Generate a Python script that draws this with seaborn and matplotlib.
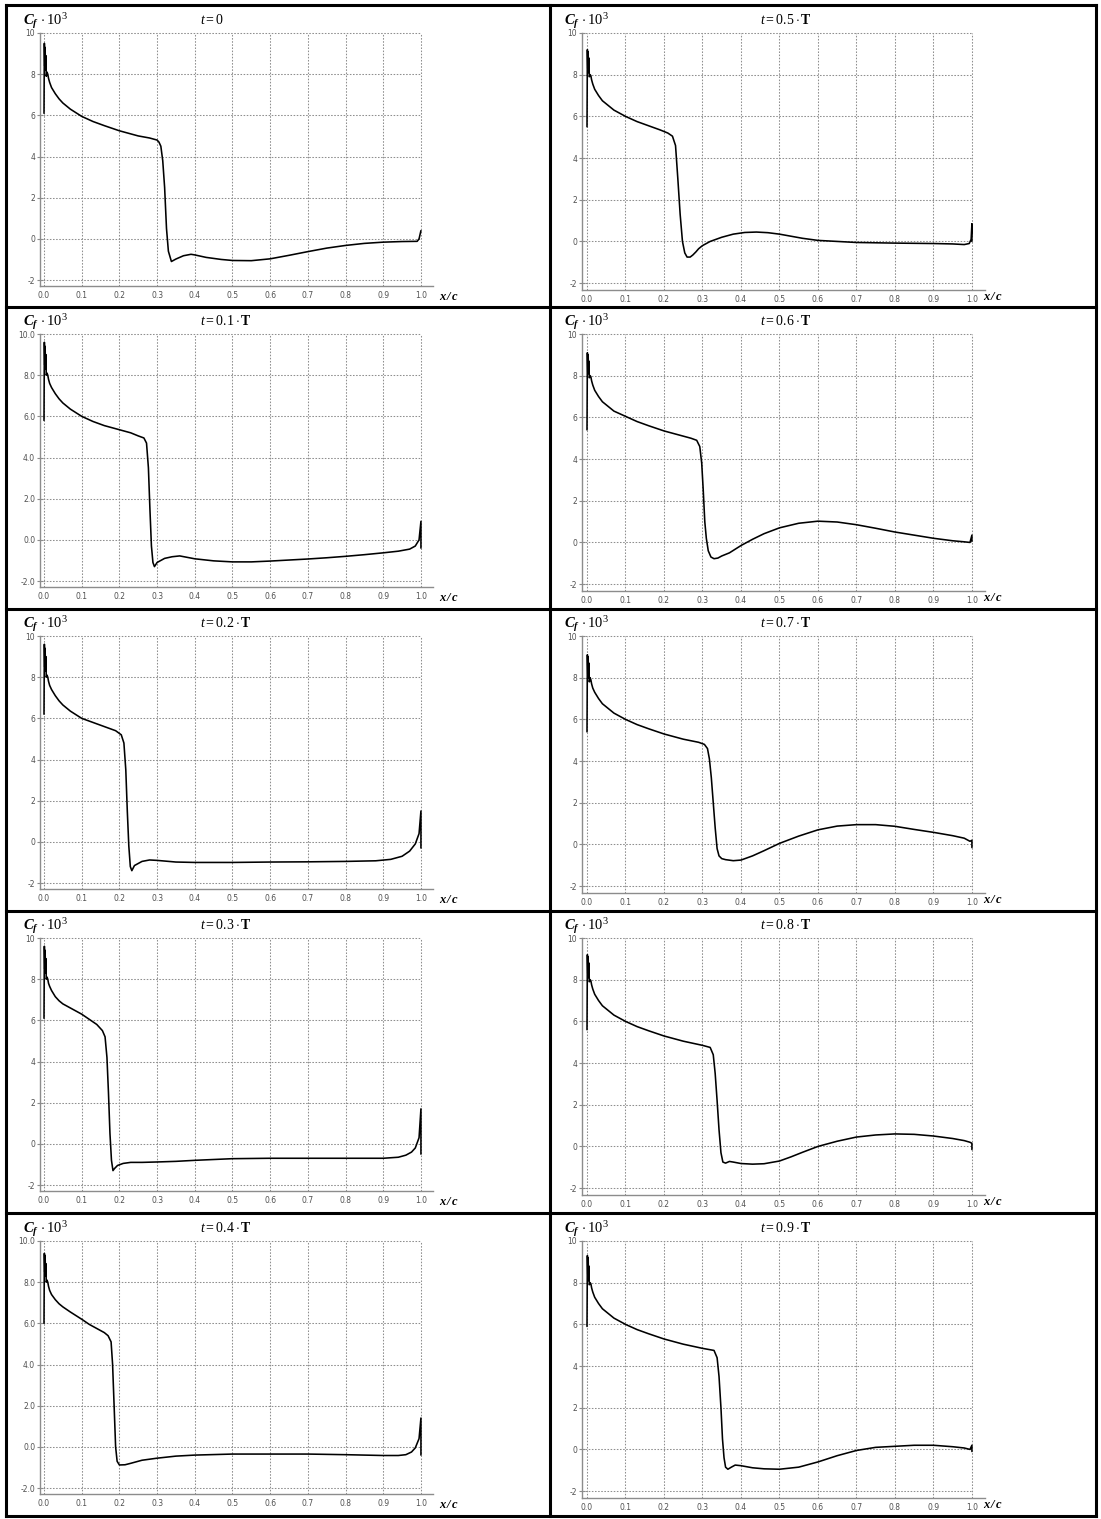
import matplotlib
matplotlib.use("Agg")
import matplotlib.pyplot as plt
import seaborn as sns
import pandas as pd
from matplotlib.lines import Line2D

# ---------------- data ----------------
time_labels = ["0", "0.1", "0.2", "0.3", "0.4", "0.5", "0.6", "0.7", "0.8", "0.9"]
x_ticks = [0.0, 0.1, 0.2, 0.3, 0.4, 0.5, 0.6, 0.7, 0.8, 0.9, 1.0]
x_tick_labels = ["0.0", "0.1", "0.2", "0.3", "0.4", "0.5", "0.6", "0.7", "0.8", "0.9", "1.0"]
y_ticks = [-2, 0, 2, 4, 6, 8, 10]
y_tick_labels_int = ["-2", "0", "2", "4", "6", "8", "10"]
y_tick_labels_dec = ["-2.0", "0.0", "2.0", "4.0", "6.0", "8.0", "10.0"]

x_t00 = [0.0, 0.001, 0.002, 0.003, 0.004, 0.005, 0.006, 0.008, 0.010, 0.012,
         0.015, 0.02, 0.03, 0.04, 0.05, 0.07, 0.10, 0.13, 0.16, 0.20,
         0.25, 0.28, 0.30, 0.305, 0.31, 0.315, 0.32, 0.325, 0.33, 0.338,
         0.35, 0.37, 0.39, 0.40, 0.43, 0.47, 0.50, 0.55, 0.60, 0.65,
         0.70, 0.75, 0.80, 0.85, 0.90, 0.95, 0.99, 0.995, 1.0]
cf_t00 = [6.1, 9.5, 8.4, 9.3, 8.2, 8.9, 7.9, 8.1, 8.0, 7.8,
          7.6, 7.35, 7.05, 6.8, 6.6, 6.3, 5.95, 5.7, 5.5, 5.25,
          5.0, 4.9, 4.8, 4.7, 4.5, 3.8, 2.5, 0.5, -0.6, -1.1,
          -0.98, -0.82, -0.75, -0.78, -0.9, -1.0, -1.05, -1.06, -0.97, -0.8,
          -0.62, -0.45, -0.32, -0.22, -0.16, -0.13, -0.12, 0.0, 0.4]

x_t01 = [0.0, 0.001, 0.002, 0.003, 0.004, 0.005, 0.006, 0.008, 0.010, 0.012,
         0.015, 0.02, 0.03, 0.04, 0.05, 0.07, 0.10, 0.13, 0.16, 0.20,
         0.23, 0.25, 0.265, 0.272, 0.277, 0.281, 0.285, 0.289, 0.293, 0.30,
         0.32, 0.34, 0.36, 0.38, 0.40, 0.45, 0.50, 0.55, 0.60, 0.65,
         0.70, 0.75, 0.80, 0.85, 0.90, 0.94, 0.97, 0.985, 0.995, 1.0, 1.0]
cf_t01 = [5.8, 9.6, 8.5, 9.4, 8.3, 9.0, 8.0, 8.1, 8.0, 7.8,
          7.6, 7.4, 7.1, 6.85, 6.65, 6.35, 6.0, 5.75, 5.55, 5.35,
          5.2, 5.05, 4.95, 4.7, 3.5, 1.5, -0.3, -1.1, -1.3, -1.1,
          -0.9, -0.82, -0.78, -0.85, -0.92, -1.02, -1.07, -1.07, -1.03, -0.98,
          -0.93, -0.87, -0.8, -0.72, -0.63, -0.55, -0.45, -0.3, 0.0, 0.9, -0.4]

x_t02 = [0.0, 0.001, 0.002, 0.003, 0.004, 0.005, 0.006, 0.008, 0.010, 0.012,
         0.015, 0.02, 0.03, 0.04, 0.05, 0.07, 0.10, 0.13, 0.16, 0.19,
         0.205, 0.212, 0.217, 0.221, 0.225, 0.229, 0.233, 0.24, 0.26, 0.28,
         0.30, 0.35, 0.40, 0.50, 0.60, 0.70, 0.80, 0.88, 0.92, 0.95,
         0.97, 0.985, 0.995, 1.0, 1.0]
cf_t02 = [6.2, 9.6, 8.5, 9.4, 8.3, 9.0, 8.0, 8.1, 8.0, 7.8,
          7.6, 7.4, 7.1, 6.85, 6.65, 6.35, 6.0, 5.8, 5.6, 5.4,
          5.2, 4.8, 3.5, 1.5, -0.2, -1.2, -1.4, -1.15, -0.95, -0.88,
          -0.9, -0.98, -1.0, -1.0, -0.98, -0.97, -0.95, -0.92, -0.85, -0.7,
          -0.45, -0.1, 0.4, 1.5, -0.3]

x_t03 = [0.0, 0.001, 0.002, 0.003, 0.004, 0.005, 0.006, 0.008, 0.010, 0.012,
         0.015, 0.02, 0.03, 0.04, 0.05, 0.07, 0.10, 0.12, 0.14, 0.155,
         0.162, 0.167, 0.171, 0.175, 0.179, 0.183, 0.187, 0.195, 0.21, 0.23,
         0.26, 0.30, 0.35, 0.40, 0.50, 0.60, 0.70, 0.80, 0.90, 0.94,
         0.96, 0.975, 0.985, 0.995, 1.0, 1.0]
cf_t03 = [6.1, 9.6, 8.5, 9.4, 8.3, 9.0, 8.0, 8.1, 8.0, 7.8,
          7.65, 7.45, 7.15, 6.95, 6.8, 6.6, 6.3, 6.05, 5.8, 5.5,
          5.2, 4.2, 2.5, 0.5, -0.8, -1.3, -1.2, -1.05, -0.95, -0.9,
          -0.9, -0.88, -0.85, -0.8, -0.72, -0.7, -0.7, -0.7, -0.7, -0.65,
          -0.55, -0.4, -0.2, 0.3, 1.7, -0.5]

x_t04 = [0.0, 0.001, 0.002, 0.003, 0.004, 0.005, 0.006, 0.008, 0.010, 0.012,
         0.015, 0.02, 0.03, 0.04, 0.05, 0.07, 0.10, 0.12, 0.14, 0.16,
         0.17, 0.178, 0.182, 0.186, 0.19, 0.194, 0.2, 0.215, 0.23, 0.26,
         0.30, 0.35, 0.40, 0.50, 0.60, 0.70, 0.80, 0.90, 0.94, 0.96,
         0.975, 0.985, 0.995, 1.0, 1.0]
cf_t04 = [6.0, 9.4, 8.5, 9.3, 8.3, 8.9, 8.0, 8.1, 8.0, 7.8,
          7.6, 7.4, 7.15, 6.95, 6.8, 6.55, 6.2, 5.95, 5.75, 5.55,
          5.4, 5.1, 4.0, 2.0, 0.0, -0.7, -0.88, -0.87, -0.8, -0.65,
          -0.55, -0.45, -0.4, -0.35, -0.35, -0.35, -0.38, -0.42, -0.42, -0.38,
          -0.25, -0.05, 0.4, 1.4, -0.4]

x_t05 = [0.0, 0.001, 0.002, 0.003, 0.004, 0.005, 0.006, 0.008, 0.010, 0.012,
         0.015, 0.02, 0.03, 0.04, 0.05, 0.07, 0.10, 0.13, 0.16, 0.19,
         0.21, 0.222, 0.23, 0.236, 0.242, 0.248, 0.254, 0.26, 0.268, 0.275,
         0.283, 0.29, 0.30, 0.32, 0.35, 0.38, 0.41, 0.44, 0.47, 0.50,
         0.53, 0.56, 0.60, 0.65, 0.70, 0.80, 0.90, 0.95, 0.98, 0.993,
         0.998, 1.0, 1.0]
cf_t05 = [5.5, 9.2, 8.3, 9.1, 8.1, 8.8, 7.9, 8.0, 7.95, 7.75,
          7.55, 7.3, 7.0, 6.75, 6.6, 6.3, 6.0, 5.75, 5.55, 5.35,
          5.2, 5.05, 4.6, 3.0, 1.3, 0.0, -0.55, -0.75, -0.75, -0.65,
          -0.5, -0.35, -0.2, 0.0, 0.2, 0.35, 0.43, 0.45, 0.42, 0.35,
          0.25, 0.15, 0.05, 0.0, -0.05, -0.08, -0.1, -0.12, -0.15, -0.1,
          0.1, 0.85, 0.0]

x_t06 = [0.0, 0.001, 0.002, 0.003, 0.004, 0.005, 0.006, 0.008, 0.010, 0.012,
         0.015, 0.02, 0.03, 0.04, 0.05, 0.07, 0.10, 0.13, 0.16, 0.20,
         0.24, 0.27, 0.285, 0.293, 0.298, 0.302, 0.306, 0.31, 0.315, 0.322,
         0.33, 0.34, 0.35, 0.37, 0.40, 0.43, 0.46, 0.50, 0.55, 0.60,
         0.65, 0.70, 0.75, 0.80, 0.85, 0.90, 0.95, 0.98, 0.995, 1.0, 1.0]
cf_t06 = [5.4, 9.1, 8.2, 9.0, 8.1, 8.7, 7.9, 8.0, 7.95, 7.75,
          7.55, 7.3, 7.0, 6.75, 6.6, 6.3, 6.05, 5.8, 5.6, 5.35,
          5.15, 5.0, 4.9, 4.6, 3.8, 2.5, 1.0, 0.2, -0.4, -0.7,
          -0.78, -0.75, -0.65, -0.5, -0.15, 0.15, 0.42, 0.7, 0.92, 1.02,
          0.98, 0.85, 0.68, 0.5, 0.35, 0.2, 0.08, 0.03, 0.0, 0.35, 0.05]

x_t07 = [0.0, 0.001, 0.002, 0.003, 0.004, 0.005, 0.006, 0.008, 0.010, 0.012,
         0.015, 0.02, 0.03, 0.04, 0.05, 0.07, 0.10, 0.13, 0.16, 0.20,
         0.25, 0.29, 0.305, 0.313, 0.318, 0.323, 0.328, 0.333, 0.338, 0.343,
         0.35, 0.36, 0.38, 0.40, 0.43, 0.46, 0.50, 0.55, 0.60, 0.65,
         0.70, 0.75, 0.80, 0.85, 0.90, 0.95, 0.98, 0.995, 1.0, 1.0]
cf_t07 = [5.4, 9.1, 8.2, 9.0, 8.0, 8.7, 7.8, 8.0, 7.9, 7.7,
          7.5, 7.3, 7.0, 6.75, 6.6, 6.3, 6.0, 5.75, 5.55, 5.3,
          5.05, 4.9, 4.8, 4.6, 4.1, 3.2, 2.0, 0.8, -0.2, -0.55,
          -0.68, -0.73, -0.78, -0.75, -0.55, -0.3, 0.05, 0.4, 0.7, 0.88,
          0.95, 0.95, 0.87, 0.72, 0.58, 0.42, 0.3, 0.15, 0.2, -0.15]

x_t08 = [0.0, 0.001, 0.002, 0.003, 0.004, 0.005, 0.006, 0.008, 0.010, 0.012,
         0.015, 0.02, 0.03, 0.04, 0.05, 0.07, 0.10, 0.13, 0.16, 0.20,
         0.25, 0.30, 0.32, 0.328, 0.333, 0.338, 0.343, 0.348, 0.353, 0.36,
         0.37, 0.38, 0.40, 0.43, 0.46, 0.50, 0.53, 0.56, 0.60, 0.65,
         0.70, 0.75, 0.80, 0.85, 0.90, 0.95, 0.98, 0.995, 1.0, 1.0]
cf_t08 = [5.6, 9.2, 8.3, 9.1, 8.1, 8.8, 7.9, 8.0, 7.95, 7.75,
          7.55, 7.3, 7.0, 6.75, 6.6, 6.3, 6.0, 5.75, 5.55, 5.3,
          5.05, 4.85, 4.75, 4.4, 3.5, 2.2, 0.8, -0.3, -0.75, -0.8,
          -0.72, -0.75, -0.82, -0.85, -0.83, -0.7, -0.5, -0.28, 0.0, 0.25,
          0.45, 0.55, 0.6, 0.58, 0.5, 0.38, 0.28, 0.2, 0.15, -0.15]

x_t09 = [0.0, 0.001, 0.002, 0.003, 0.004, 0.005, 0.006, 0.008, 0.010, 0.012,
         0.015, 0.02, 0.03, 0.04, 0.05, 0.07, 0.10, 0.13, 0.16, 0.20,
         0.25, 0.30, 0.33, 0.338, 0.343, 0.348, 0.352, 0.356, 0.36, 0.366,
         0.375, 0.385, 0.40, 0.43, 0.46, 0.50, 0.55, 0.60, 0.65, 0.70,
         0.75, 0.80, 0.85, 0.90, 0.95, 0.98, 0.995, 1.0, 1.0]
cf_t09 = [5.9, 9.3, 8.4, 9.2, 8.1, 8.8, 7.9, 8.0, 7.95, 7.75,
          7.55, 7.3, 7.0, 6.75, 6.6, 6.3, 6.0, 5.75, 5.55, 5.3,
          5.05, 4.85, 4.75, 4.4, 3.5, 2.0, 0.5, -0.4, -0.85, -0.95,
          -0.85, -0.75, -0.78, -0.88, -0.93, -0.95, -0.85, -0.6, -0.3, -0.05,
          0.1, 0.15, 0.2, 0.2, 0.13, 0.07, 0.0, 0.2, -0.1]

panel_x = [x_t00, x_t01, x_t02, x_t03, x_t04, x_t05, x_t06, x_t07, x_t08, x_t09]
panel_cf = [cf_t00, cf_t01, cf_t02, cf_t03, cf_t04, cf_t05, cf_t06, cf_t07, cf_t08, cf_t09]
decimal_y_panels = ["0.1", "0.4"]

# ---------------- styling ----------------
sns.set_theme(style="white")
plt.rcParams["font.family"] = ["DejaVu Sans"]
plt.rcParams["mathtext.fontset"] = "custom"
plt.rcParams["mathtext.rm"] = "Liberation Serif"
plt.rcParams["mathtext.it"] = "Liberation Serif:italic"
plt.rcParams["mathtext.bf"] = "Liberation Serif:bold"
try:
    plt.rcParams["mathtext.bfit"] = "Liberation Serif:bold:italic"
    BF = r"\mathbfit"
except KeyError:
    BF = r"\mathit"

W, H = 1101, 1519
fig = plt.figure(figsize=(W / 100, H / 100), dpi=100)
fig.patch.set_facecolor("white")


def fx(p):
    return p / W


def fy(p):
    return 1 - p / H


row_tops = [6, 307, 609, 911, 1214]
col_lefts = [7, 551]
# per-column geometry (pixel offsets inside a cell)
geom = [
    dict(ax_l=33, ax_r=426, ax_t=27, ax_b=280, xlim=(-0.0106, 1.032), ylim=(-2.29, 10.0),
         cf_x=16, t_x=193, xc_x=432),
    dict(ax_l=31, ax_r=434, ax_t=27, ax_b=284, xlim=(-0.013, 1.034), ylim=(-2.33, 10.0),
         cf_x=13, t_x=209, xc_x=432),
]

grid_col = "#8f8f8f"
axis_col = "#8c8c8c"

for i, tl in enumerate(time_labels):
    col = 0 if i < 5 else 1
    row = i % 5
    g = geom[col]
    cx, cy = col_lefts[col], row_tops[row]
    left = fx(cx + g["ax_l"])
    right = fx(cx + g["ax_r"])
    top = fy(cy + g["ax_t"])
    bottom = fy(cy + g["ax_b"])
    ax = fig.add_axes([left, bottom, right - left, top - bottom])
    ax.set_facecolor("white")

    df = pd.DataFrame({"x": panel_x[i], "cf": panel_cf[i]})
    ax.set_xlim(*g["xlim"])
    ax.set_ylim(*g["ylim"])

    # dotted grid, bounded at x = 1.0 and Cf = 10
    ax.hlines(y_ticks, g["xlim"][0], x_ticks[-1], colors=grid_col,
              linestyles=(0, (1.5, 1.5)), linewidth=0.75, zorder=1, clip_on=False)
    ax.vlines(x_ticks, g["ylim"][0], y_ticks[-1], colors=grid_col,
              linestyles=(0, (1.5, 1.5)), linewidth=0.75, zorder=1, clip_on=False)

    sns.lineplot(data=df, x="x", y="cf", sort=False, estimator=None,
                 color="black", linewidth=1.15, ax=ax, zorder=3)

    ax.set_xlabel("")
    ax.set_ylabel("")
    for s in ["top", "right"]:
        ax.spines[s].set_visible(False)
    for s in ["left", "bottom"]:
        ax.spines[s].set_color(axis_col)
        ax.spines[s].set_linewidth(1.0)

    ax.set_xticks(x_ticks)
    ax.set_xticklabels(x_tick_labels)
    ax.set_yticks(y_ticks)
    ax.set_yticklabels(y_tick_labels_dec if tl in decimal_y_panels else y_tick_labels_int)
    ax.tick_params(axis="x", length=0, pad=3.5, labelsize=5.5, labelcolor="#505050")
    ax.tick_params(axis="y", direction="inout", length=4, width=0.8, color=axis_col,
                   pad=1.5, labelsize=5.5, labelcolor="#505050", left=True)

    # header texts
    fig.text(fx(cx + g["cf_x"]), fy(cy + 19),
             r"$%s{C}_{%s{f}}\,\cdot 10^{3}$" % (BF, BF),
             fontsize=10.5, ha="left", va="baseline", color="black")
    if tl == "0":
        tlabel = r"$t = 0$"
    else:
        tlabel = r"$t = %s\cdot\mathbf{T}$" % tl
    fig.text(fx(cx + g["t_x"]), fy(cy + 18), tlabel,
             fontsize=10, ha="left", va="baseline", color="black")
    fig.text(fx(cx + g["xc_x"]), fy(cy + 294), r"$%s{x\,/\,c}$" % BF,
             fontsize=9, ha="left", va="baseline", color="black")

# table borders
v_lines = [6, 550, 1096]
h_lines = [5, 307, 609, 911, 1213, 1516]
for xv in v_lines:
    fig.add_artist(Line2D([fx(xv), fx(xv)], [fy(h_lines[0]), fy(h_lines[-1])],
                          transform=fig.transFigure, color="black", linewidth=2.2,
                          solid_capstyle="projecting"))
for yh in h_lines:
    fig.add_artist(Line2D([fx(v_lines[0]), fx(v_lines[-1])], [fy(yh), fy(yh)],
                          transform=fig.transFigure, color="black", linewidth=2.2,
                          solid_capstyle="projecting"))

fig.savefig("out.png", dpi=100, facecolor="white")
